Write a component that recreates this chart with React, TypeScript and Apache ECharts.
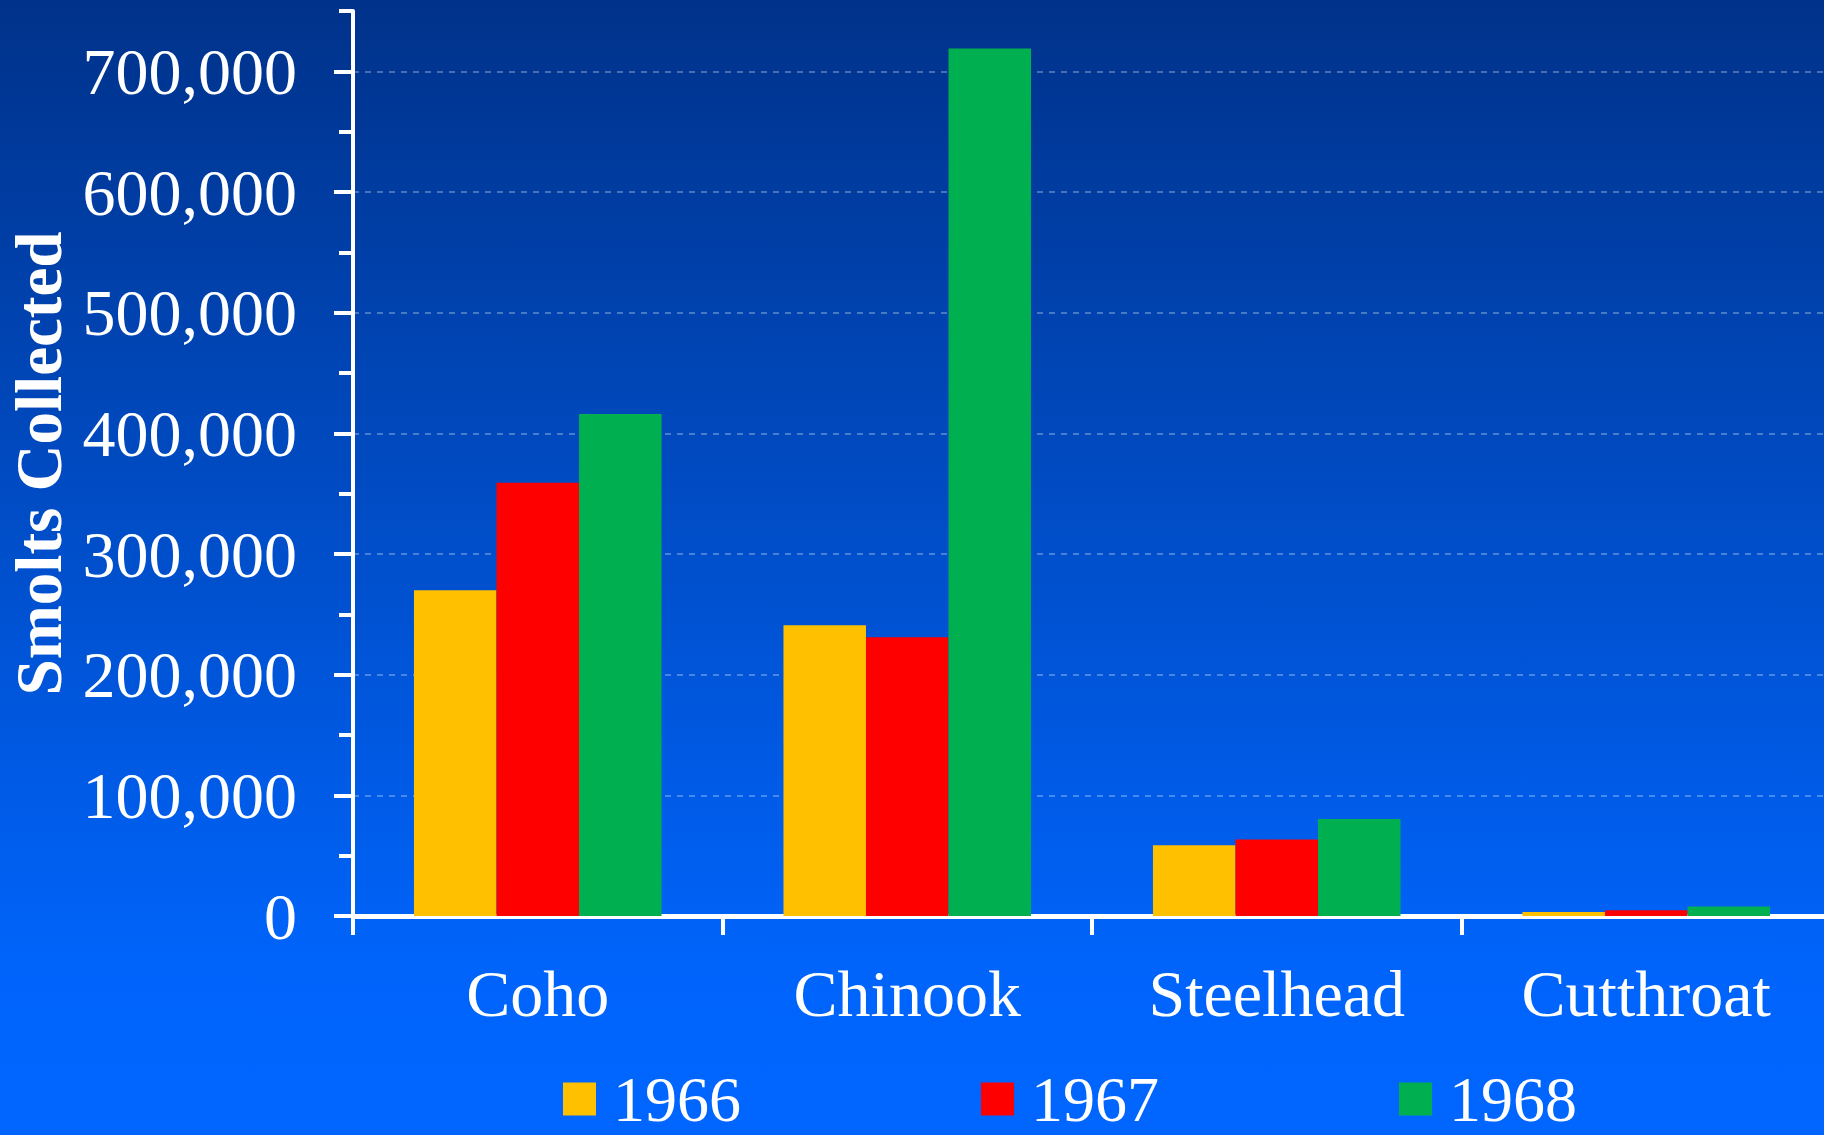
import React, { useEffect, useRef } from "react";
import * as echarts from "echarts";

const categories = ["Coho", "Chinook", "Steelhead", "Cutthroat"];
const years = ["1966", "1967", "1968"];
const values1966 = [270000, 241000, 58700, 3400];
const values1967 = [359000, 231000, 63400, 4800];
const values1968 = [416000, 719000, 80400, 7900];
const majorTicks = [0, 100000, 200000, 300000, 400000, 500000, 600000, 700000];
const yMax = 750000;
const colors = ["#FFC000", "#FF0000", "#00B050"];

const FONT = '"Liberation Serif", "Times New Roman", serif';

export default function App() {
  const ref = useRef<HTMLDivElement>(null);
  useEffect(() => {
    if (!ref.current) return;
    const chart = echarts.init(ref.current, null, { renderer: "svg" });
    const seriesData = [values1966, values1967, values1968];
    chart.setOption({
      animation: false,
      backgroundColor: new echarts.graphic.LinearGradient(0, 0, 0, 1, [
        { offset: 0, color: "#00328a" },
        { offset: 0.85, color: "#0064fb" },
        { offset: 1, color: "#0066ff" },
      ]),
      grid: {
        left: 353,
        width: 1478,
        top: 11,
        bottom: 219,
        containLabel: false,
        outerBoundsMode: "none",
      },
      legend: {
        data: years,
        left: 558,
        top: 1062,
        icon: "rect",
        itemWidth: 33,
        itemHeight: 33,
        itemGap: 240,
        textStyle: {
          color: "#ffffff",
          fontFamily: FONT,
          fontSize: 64,
          padding: [0, 0, 0, 12],
        },
      },
      xAxis: [
        {
          type: "category",
          data: categories,
          position: "bottom",
          axisLine: { show: true, lineStyle: { color: "#ffffff", width: 5 } },
          axisTick: {
            show: true,
            interval: 0,
            length: 19,
            lineStyle: { color: "#ffffff", width: 4 },
          },
          axisLabel: {
            color: "#ffffff",
            fontFamily: FONT,
            fontSize: 66,
            margin: 44,
            interval: 0,
          },
          splitLine: { show: false },
        },
        {
          type: "category",
          data: categories,
          position: "top",
          axisLine: { show: true, lineStyle: { color: "#ffffff", width: 2 } },
          axisTick: { show: false },
          axisLabel: { show: false },
          splitLine: { show: false },
        },
      ],
      yAxis: [
        {
          type: "value",
          min: 0,
          max: yMax,
          interval: 100000,
          position: "left",
          name: "Smolts Collected",
          nameLocation: "middle",
          nameRotate: 90,
          nameGap: 279,
          nameTextStyle: {
            color: "#ffffff",
            fontFamily: FONT,
            fontSize: 65,
            fontWeight: "bold",
          },
          axisLine: { show: true, lineStyle: { color: "#ffffff", width: 4 } },
          axisTick: {
            show: true,
            length: 19,
            customValues: majorTicks,
            lineStyle: { color: "#ffffff", width: 4 },
          },
          axisLabel: {
            color: "#ffffff",
            fontFamily: FONT,
            fontSize: 66,
            margin: 56,
            showMaxLabel: false,
            formatter: (v: number) =>
              v > 700000 ? "" : v.toLocaleString("en-US"),
          },
          splitLine: {
            show: true,
            lineStyle: {
              color: "rgba(255,255,255,0.38)",
              width: 1.5,
              type: [6, 6],
            },
          },
        },
        {
          type: "value",
          min: 0,
          max: yMax,
          interval: 50000,
          position: "left",
          axisLine: { show: false },
          axisTick: {
            show: true,
            length: 14,
            lineStyle: { color: "#ffffff", width: 4 },
          },
          axisLabel: { show: false },
          splitLine: { show: false },
        },
      ],
      series: years.map((y, i) => ({
        name: y,
        type: "bar",
        xAxisIndex: 0,
        yAxisIndex: 0,
        data: seriesData[i],
        barGap: "0%",
        barCategoryGap: "33%",
        itemStyle: { color: colors[i] },
        z: 1,
      })),
    });
    return () => chart.dispose();
  }, []);
  return (
    <div
      ref={ref}
      style={{ position: "absolute", left: 0, top: 0, width: 1824, height: 1135 }}
    />
  );
}
